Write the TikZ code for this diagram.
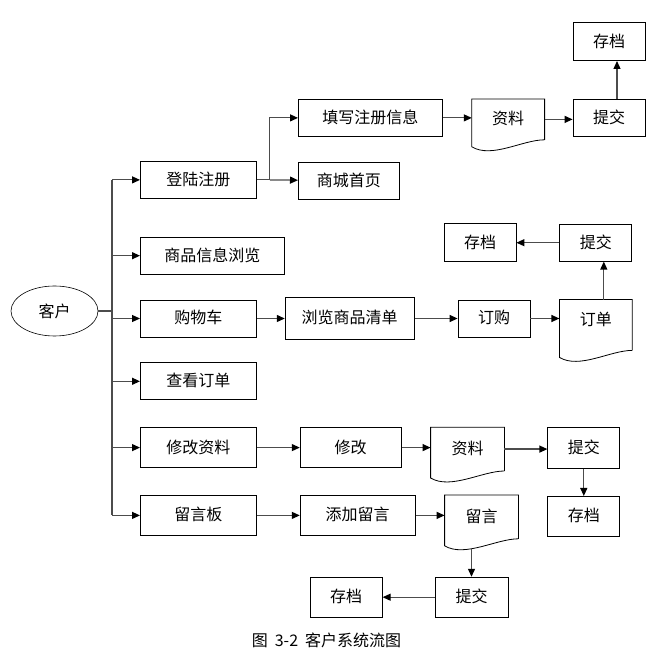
\documentclass[tikz,border=0pt]{standalone}
\usepackage{fontspec}
\setmainfont{Noto Sans CJK SC}
\usetikzlibrary{shapes.geometric,arrows.meta,positioning}

\begin{document}
\begin{tikzpicture}[
    x=1pt, y=-1pt,
    node distance=25pt and 43pt,
    box/.style={rectangle, draw, line width=0.8pt, minimum width=#1,
                minimum height=37pt, inner sep=0pt, text height=13pt,
                text depth=2pt, font=\fontsize{16}{18}\selectfont},
    box/.default=72pt,
    doc/.style={box=#1, draw=none},
    doc/.default=72pt,
    client/.style={ellipse, draw, line width=0.6pt, minimum width=87pt,
                   minimum height=50pt, font=\fontsize{16}{18}\selectfont},
    arrow/.style={-{Triangle[length=8pt, width=7pt, color=black]},
                  line width=1.2pt, draw=black!70},
    link/.style={line width=1.2pt, draw=black!70}
]
\useasboundingbox (0,0) rectangle (662,660);

% left column
\node[client] (kehu) at (54.5,311) {客户};
\node[box=116pt, anchor=north west] (denglu) at (140,161) {登陆注册};
\node[box=144pt, below=38pt of denglu.south west, anchor=north west] (shangpin) {商品信息浏览};
\node[box=116pt, below=25pt of shangpin.south west, anchor=north west] (gouwu) {购物车};
\node[box=116pt, below=25pt of gouwu.south west, anchor=north west] (chakan) {查看订单};
\node[box=116pt, minimum height=40pt, below=27pt of chakan.south west, anchor=north west] (xiugaiziliao) {修改资料};
\node[box=116pt, minimum height=40pt, below=27pt of xiugaiziliao.south west, anchor=north west] (liuyanban) {留言板};

% register branch
\node[box=144pt, anchor=north west] (tianxie) at (298,99) {填写注册信息};
\node[box=101pt, below=25pt of tianxie.south west, anchor=north west] (shouye) {商城首页};
\node[doc, minimum height=40pt, right=29pt of tianxie.north east, anchor=north west] (ziliaoA) {资料};
\node[box, right=28pt of ziliaoA.north east, anchor=north west] (tijiaoA) {提交};
\node[box, minimum height=38pt, above=38pt of tijiaoA] (cundangA) {存档};

% shopping cart row
\node[box=129pt, minimum height=42pt, right=28pt of gouwu] (liulan) {浏览商品清单};
\node[box, right=of liulan] (dinggou) {订购};
\node[doc, minimum height=50pt, text depth=12pt, right=29pt of dinggou.north east, anchor=north west] (dingdan) {订单};
\node[box, above=38pt of dingdan] (tijiaoB) {提交};
\node[box, minimum height=38pt, left=of tijiaoB] (cundangB) {存档};

% modify row
\node[box=101pt, minimum height=40pt, right=of xiugaiziliao] (xiugai) {修改};
\node[doc=73pt, minimum height=43pt, right=29pt of xiugai.north east, anchor=north west] (ziliaoB) {资料};
\node[box, minimum height=41pt, right=of ziliaoB.north east, anchor=north west] (tijiaoC) {提交};
\node[box, minimum height=40pt, below=27pt of tijiaoC] (cundangC) {存档};

% message row
\node[box=115pt, minimum height=40pt, right=of liuyanban] (tianjia) {添加留言};
\node[doc=73pt, minimum height=43pt, right=29pt of tianjia.north east, anchor=north west] (liuyan) {留言};
\node[box=73pt, minimum height=40pt, below=38pt of liuyan, xshift=-10pt] (tijiaoD) {提交};
\node[box, minimum height=40pt, left=52pt of tijiaoD] (cundangD) {存档};

\node[font=\fontsize{16}{18}\selectfont] (caption) at (326.5,640)
  {图\hspace{7pt}3-2\hspace{7pt}客户系统流图};

% document outlines
\foreach \d in {ziliaoA,dingdan,ziliaoB,liuyan}
  \draw[line width=0.8pt] (\d.south east) -- (\d.north east) -- (\d.north west)
    -- ([yshift=-7pt]\d.south west) .. controls +(20,12) and +(-22,0) .. (\d.south east);

% connectors
\coordinate (trunk) at (112,311);
\draw[link] (kehu) -- (trunk);
\draw[link] (trunk |- denglu) -- (trunk |- liuyanban);
\foreach \n in {denglu,shangpin,gouwu,chakan,xiugaiziliao,liuyanban}
  \draw[arrow] (trunk |- \n) -- (\n);

\coordinate[right=13pt of denglu] (fork);
\draw[link] (denglu) -- (fork);
\draw[arrow] (fork) |- (tianxie);
\draw[arrow] (fork) -- (shouye);
\draw[arrow] (tianxie.east) -- (tianxie.east -| ziliaoA.west);
\draw[arrow] (ziliaoA.east) -- (ziliaoA.east -| tijiaoA.west);
\draw[arrow] ([xshift=8pt]tijiaoA.north) -- ([xshift=8pt]tijiaoA.north |- cundangA.south);

\draw[arrow] (gouwu) -- (liulan);
\draw[arrow] (liulan) -- (dinggou);
\draw[arrow] (dinggou.east) -- (dinggou.east -| dingdan.west);
\draw[arrow] ([xshift=8pt]dingdan.north) -- ([xshift=8pt]dingdan.north |- tijiaoB.south);
\draw[arrow] (tijiaoB) -- (cundangB);

\draw[arrow] (xiugaiziliao) -- (xiugai);
\draw[arrow] (xiugai.east) -- (xiugai.east -| ziliaoB.west);
\draw[arrow] (ziliaoB.east) -- (ziliaoB.east -| tijiaoC.west);
\draw[arrow] (tijiaoC) -- (cundangC);

\draw[arrow] (liuyanban) -- (tianjia);
\draw[arrow] (tianjia.east) -- (tianjia.east -| liuyan.west);
\draw[arrow] ([yshift=-9pt]tijiaoD.north |- liuyan.south) -- (tijiaoD);
\draw[arrow] (tijiaoD) -- (cundangD);
\end{tikzpicture}
\end{document}
